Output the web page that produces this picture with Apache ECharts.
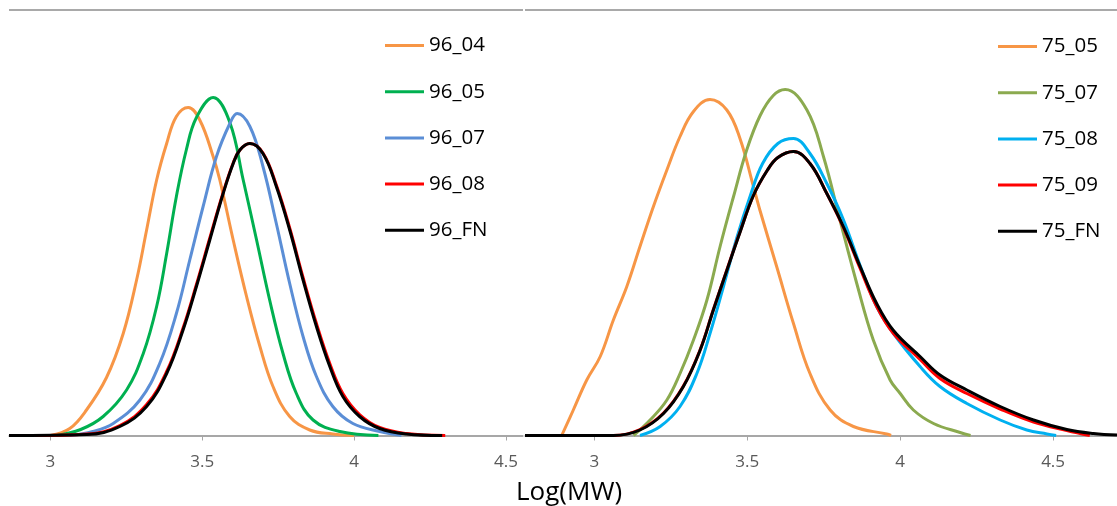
<!DOCTYPE html>
<html><head><meta charset="utf-8">
<script src="https://cdn.jsdelivr.net/npm/echarts@6/dist/echarts.min.js"></script>
<style>html,body{margin:0;padding:0;background:#fff}#c{width:1117px;height:506px}</style>
</head><body><div id="c"></div>
<script>
// ---- data (x = Log(MW), y = relative weight fraction) ----
const xTicks = [3, 3.5, 4, 4.5];
const xTitle = 'Log(MW)';
const leftNames = ['96_04', '96_05', '96_07', '96_08', '96_FN'];
const rightNames = ['75_05', '75_07', '75_08', '75_09', '75_FN'];

const s96_04 = [[3.00,0],[3.064,0.07],[3.119,0.255],[3.185,0.58],[3.24,1.02],[3.284,1.555],[3.317,2.055],[3.35,2.555],[3.383,2.92],[3.415,3.19],[3.454,3.28],[3.492,3.155],[3.536,2.79],[3.558,2.555],[3.602,1.955],[3.646,1.39],[3.69,0.89],[3.733,0.49],[3.788,0.19],[3.854,0.055],[3.93,0.015],[4.0,0]];
const s96_05 = [[3.02,0],[3.10,0.06],[3.174,0.19],[3.251,0.455],[3.306,0.82],[3.35,1.29],[3.383,1.82],[3.415,2.39],[3.448,2.86],[3.481,3.18],[3.536,3.38],[3.591,3.13],[3.635,2.555],[3.679,1.955],[3.722,1.355],[3.766,0.82],[3.81,0.42],[3.865,0.155],[3.953,0.04],[4.08,0]];
const s96_07 = [[3.064,0],[3.14,0.04],[3.207,0.12],[3.295,0.355],[3.36,0.72],[3.415,1.22],[3.459,1.755],[3.503,2.29],[3.547,2.79],[3.591,3.12],[3.615,3.22],[3.657,3.09],[3.70,2.69],[3.744,2.12],[3.788,1.52],[3.832,0.99],[3.876,0.59],[3.93,0.29],[3.996,0.12],[4.084,0.04],[4.156,0]];
const s96_08 = [[2.95,0],[3.12,0.015],[3.229,0.10],[3.317,0.31],[3.383,0.64],[3.437,1.075],[3.481,1.51],[3.525,1.975],[3.569,2.43],[3.602,2.725],[3.624,2.855],[3.657,2.92],[3.70,2.825],[3.744,2.505],[3.788,2.075],[3.832,1.58],[3.876,1.12],[3.92,0.72],[3.963,0.42],[4.018,0.21],[4.084,0.08],[4.172,0.02],[4.30,0]];
const s96_FN = [[2.864,0],[3.12,0.01],[3.229,0.09],[3.317,0.29],[3.383,0.62],[3.437,1.055],[3.481,1.49],[3.525,1.955],[3.569,2.42],[3.602,2.72],[3.624,2.855],[3.657,2.92],[3.70,2.82],[3.744,2.49],[3.788,2.055],[3.832,1.555],[3.876,1.09],[3.92,0.69],[3.963,0.39],[4.018,0.19],[4.084,0.07],[4.172,0.015],[4.29,0]];

const s75_05 = [[2.893,0],[2.931,0.255],[2.975,0.555],[3.019,0.79],[3.062,1.155],[3.106,1.49],[3.149,1.89],[3.193,2.29],[3.237,2.655],[3.28,2.99],[3.324,3.24],[3.378,3.36],[3.433,3.255],[3.476,2.97],[3.52,2.49],[3.541,2.255],[3.596,1.69],[3.651,1.12],[3.705,0.62],[3.771,0.255],[3.847,0.09],[3.956,0.015],[3.97,0]];
const s75_07 = [[3.128,0],[3.182,0.155],[3.237,0.355],[3.28,0.62],[3.324,0.955],[3.368,1.355],[3.411,1.89],[3.455,2.39],[3.498,2.855],[3.542,3.20],[3.585,3.40],[3.624,3.46],[3.695,3.255],[3.749,2.79],[3.803,2.155],[3.858,1.52],[3.912,0.955],[3.967,0.555],[4.0,0.42],[4.043,0.255],[4.109,0.12],[4.196,0.03],[4.23,0]];
const s75_08 = [[3.149,0],[3.215,0.09],[3.28,0.29],[3.335,0.62],[3.378,1.02],[3.422,1.49],[3.466,1.98],[3.51,2.40],[3.55,2.72],[3.60,2.92],[3.651,2.97],[3.705,2.82],[3.76,2.52],[3.814,2.16],[3.869,1.70],[3.923,1.29],[3.978,1.02],[4.065,0.69],[4.13,0.49],[4.218,0.32],[4.327,0.155],[4.414,0.055],[4.48,0.015],[4.51,0]];
const s75_09 = [[2.90,0],[3.062,0],[3.149,0.06],[3.226,0.225],[3.291,0.495],[3.346,0.86],[3.389,1.26],[3.433,1.655],[3.476,2.035],[3.52,2.40],[3.565,2.65],[3.60,2.78],[3.651,2.84],[3.705,2.72],[3.76,2.42],[3.814,2.08],[3.869,1.67],[3.923,1.29],[3.978,1.02],[4.065,0.76],[4.13,0.57],[4.218,0.42],[4.327,0.265],[4.436,0.135],[4.545,0.05],[4.62,0]];
const s75_FN = [[2.773,0],[3.062,0],[3.149,0.055],[3.226,0.22],[3.291,0.49],[3.346,0.855],[3.389,1.255],[3.433,1.65],[3.476,2.03],[3.52,2.40],[3.565,2.65],[3.60,2.78],[3.651,2.84],[3.705,2.72],[3.76,2.42],[3.814,2.09],[3.869,1.69],[3.923,1.32],[3.978,1.05],[4.065,0.79],[4.13,0.605],[4.218,0.455],[4.327,0.29],[4.436,0.155],[4.545,0.06],[4.632,0.02],[4.709,0.005]];

const leftData = [s96_04, s96_05, s96_07, s96_08, s96_FN];
const rightData = [s75_05, s75_07, s75_08, s75_09, s75_FN];
const leftColors = ['#F79646', '#00B050', '#5B8ED6', '#FF0000', '#000000'];
const rightColors = ['#F79646', '#8BAA4F', '#00B0F0', '#FF0000', '#000000'];

// ---- chart ----
const FONT = '"Open Sans", "Noto Sans", sans-serif';
const chart = echarts.init(document.getElementById('c'), null, {renderer: 'canvas'});

function xAxis(gi, min, max) {
  return {
    type: 'value', gridIndex: gi, min: min, max: max,
    axisLine: {show: true, onZero: false, lineStyle: {color: '#a6a6a6', width: 1.5}},
    axisTick: {show: true, length: 5, lineStyle: {color: '#a6a6a6', width: 1}, customValues: xTicks},
    axisLabel: {show: true, customValues: xTicks, margin: 18, fontFamily: FONT, fontSize: 17, color: '#595959'},
    splitLine: {show: false}
  };
}
function yAxis(gi, max) {
  return {
    type: 'value', gridIndex: gi, min: 0, max: max, interval: max,
    axisLine: {show: false}, axisTick: {show: false}, axisLabel: {show: false},
    splitLine: {show: true, lineStyle: {color: '#8c8c8c', width: 1.5}}
  };
}
function mkSeries(names, datas, colors, gi) {
  return names.map((n, i) => ({
    name: n, type: 'line', xAxisIndex: gi, yAxisIndex: gi,
    data: datas[i], symbol: 'none', showSymbol: false, smooth: 0.4,
    lineStyle: {color: colors[i], width: 3}, itemStyle: {color: colors[i]},
    z: 2 + i
  }));
}
function legend(names, colors, left, top) {
  return {
    orient: 'vertical', left: left, top: top, padding: 0,
    icon: 'rect', itemWidth: 39, itemHeight: 3, itemGap: 25.2,
    textStyle: {fontFamily: FONT, fontSize: 20.5, color: '#000', lineHeight: 21},
    data: names.map((n) => ({name: n}))
  };
}

chart.setOption({
  animation: false,
  backgroundColor: '#fff',
  grid: [
    {left: 9, top: 9.5, width: 514, height: 426},
    {left: 525, top: 10, width: 592, height: 425.5}
  ],
  xAxis: [xAxis(0, 2.864, 4.556), xAxis(1, 2.773, 4.709)],
  yAxis: [yAxis(0, 4.26), yAxis(1, 4.255)],
  legend: [legend(leftNames, leftColors, 385, 35), legend(rightNames, rightColors, 998, 36)],
  series: mkSeries(leftNames, leftData, leftColors, 0).concat(mkSeries(rightNames, rightData, rightColors, 1)),
  graphic: [{
    type: 'text', left: 516, top: 480,
    style: {text: xTitle, fontFamily: FONT, fontSize: 26, fill: '#000'}
  }]
});
</script></body></html>
